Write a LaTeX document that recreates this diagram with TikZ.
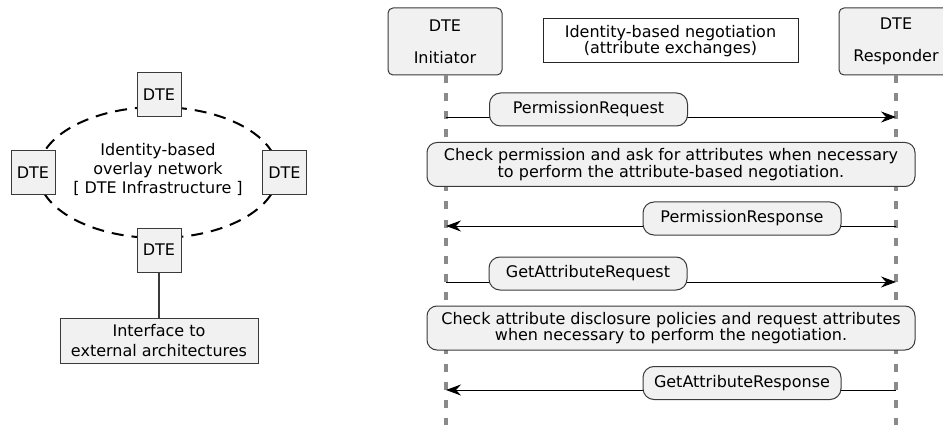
\documentclass[tikz,border=0pt]{standalone}
\usepackage{fontspec}
\setmainfont{DejaVu Sans}
\usetikzlibrary{shapes.geometric,arrows.meta}
\definecolor{boxfill}{HTML}{F1F1F1}
\definecolor{edge}{HTML}{3A3A3A}
\definecolor{life}{HTML}{8A8A8A}

\tikzset{
  dtebox/.style={draw=edge, fill=boxfill, line width=1pt, minimum width=44pt,
    minimum height=44pt, inner sep=0pt},
  plainbox/.style={draw=edge, fill=boxfill, line width=1pt, inner sep=0pt, align=center},
  actor/.style={draw=edge, fill=boxfill, line width=1pt, rounded corners=5pt,
    minimum height=67pt, inner sep=0pt, align=center},
  titlenote/.style={draw=black!85, fill=white, line width=1pt, minimum width=255pt,
    minimum height=44pt, inner sep=0pt, align=center,
    font=\fontsize{16}{15}\selectfont},
  msglabel/.style={draw=edge, fill=boxfill, line width=1pt, rounded corners=11pt,
    minimum width=198pt, minimum height=33pt, inner sep=0pt},
  stepnote/.style={draw=edge, fill=boxfill, line width=1pt, rounded corners=10pt,
    minimum width=488pt, minimum height=44pt, inner sep=0pt, align=center,
    font=\fontsize{16}{15}\selectfont},
  lifeline/.style={draw=life, line width=4.5pt, dash pattern=on 8pt off 10pt},
  msg/.style={draw=black, line width=0.9pt,
    -{Stealth[length=15pt, width=11pt, inset=5pt]}},
  ring/.style={draw=black, line width=2pt, dash pattern=on 12pt off 8pt},
  wire/.style={draw=edge, line width=1.1pt}
}

\begin{document}
\begin{tikzpicture}[x=1pt, y=-1pt, font=\fontsize{16}{19}\selectfont]
\useasboundingbox (0,0) rectangle (943,425);
\clip (0,0) rectangle (943,425);

% ---------- overlay network ----------
\node[ellipse, ring, minimum width=240pt, minimum height=131pt, inner sep=0pt]
  (overlay) at (158,172.5) {};
\node[align=center, inner sep=0pt] (overlaytext) at (158,169)
  {Identity-based\\overlay network\\{[} DTE Infrastructure ]};

\node[dtebox] (dtetop)    at (159,95)  {DTE};
\node[dtebox] (dteleft)   at (33,173)  {DTE};
\node[dtebox] (dteright)  at (284.5,173) {DTE};
\node[dtebox] (dtebottom) at (159,250) {DTE};

\node[plainbox, minimum width=198pt, minimum height=45pt, font=\fontsize{16}{20}\selectfont]
  (iface) at (159,340.5) {Interface to\\external architectures};
\draw[wire] (dtebottom.south) -- (iface.north);

% ---------- participants ----------
\node[actor, minimum width=114pt, font=\fontsize{16}{16}\selectfont]
  (init) at (445,41.5) {DTE\\[16pt]Initiator};
\node[actor, minimum width=114pt, font=\fontsize{16}{16}\selectfont]
  (resp) at (896,41.5) {DTE\\[16pt]Responder};
\node[titlenote] (title) at (670.5,41) {Identity-based negotiation\\(attribute exchanges)};

\coordinate (iend) at (446,425);
\coordinate (rend) at (896,425);
\draw[lifeline] (init.south -| iend) -- (iend);
\draw[lifeline] (resp.south -| rend) -- (rend);

% ---------- messages ----------
\coordinate (i1) at (446,117);   \coordinate (r1) at (896,117);
\coordinate (i2) at (446,226);   \coordinate (r2) at (896,226);
\coordinate (i3) at (446,282);   \coordinate (r3) at (896,282);
\coordinate (i4) at (446,390);   \coordinate (r4) at (896,390);

\draw[msg] (i1) -- (r1);
\node[msglabel] (m1) at (588.5,109.5) {PermissionRequest};

\node[stepnote] (n1) at (671,164.5)
  {Check permission and ask for attributes when necessary\\to perform the attribute-based negotiation.};

\draw[msg] (r2) -- (i2);
\node[msglabel] (m2) at (742,218.5) {PermissionResponse};

\draw[msg] (i3) -- (r3);
\node[msglabel] (m3) at (588,273.5) {GetAttributeRequest};

\node[stepnote] (n2) at (671,328)
  {Check attribute disclosure policies and request attributes\\when necessary to perform the negotiation.};

\draw[msg] (r4) -- (i4);
\node[msglabel] (m4) at (742,383) {GetAttributeResponse};
\end{tikzpicture}
\end{document}
